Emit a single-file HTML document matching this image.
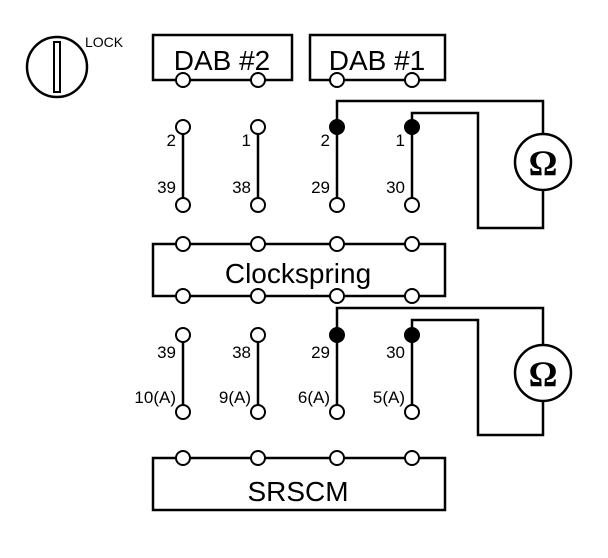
<!DOCTYPE html>
<html><head><style>body{margin:0;background:#fff}svg{display:block}text{font-family:"Liberation Sans",sans-serif;fill:#000}</style></head><body>
<svg width="608" height="558" viewBox="0 0 608 558" xmlns="http://www.w3.org/2000/svg">
<g stroke="#000" stroke-width="2.5" fill="none">
<circle cx="57" cy="67" r="30"/>
<rect x="54" y="42" width="6" height="50" stroke-width="2"/>
<rect x="153" y="35" width="139" height="45"/>
<rect x="310" y="35" width="135" height="45"/>
<rect x="153" y="244" width="292" height="52"/>
<rect x="153" y="458" width="292" height="52"/>
<line x1="183" y1="127" x2="183" y2="205"/><line x1="258" y1="127" x2="258" y2="205"/>
<line x1="337" y1="127" x2="337" y2="205"/><line x1="412" y1="127" x2="412" y2="205"/>
<line x1="183" y1="335" x2="183" y2="412"/><line x1="258" y1="335" x2="258" y2="412"/>
<line x1="337" y1="335" x2="337" y2="412"/><line x1="412" y1="335" x2="412" y2="412"/>
<polyline points="337,127 337,101 543,101 543,134"/>
<polyline points="412,127 412,113 478,113 478,228 543,228 543,190"/>
<circle cx="543" cy="162" r="28"/>
<polyline points="337,335 337,308 543,308 543,345"/>
<polyline points="412,335 412,320 478,320 478,435 543,435 543,401"/>
<circle cx="543" cy="373" r="28"/>
</g>
<g stroke="#000" stroke-width="2" fill="#fff">
<circle cx="183" cy="80" r="7"/><circle cx="258" cy="80" r="7"/><circle cx="337" cy="80" r="7"/><circle cx="412" cy="80" r="7"/>
<circle cx="183" cy="127" r="7"/><circle cx="258" cy="127" r="7"/><circle cx="337" cy="127" r="7" fill="#000"/><circle cx="412" cy="127" r="7" fill="#000"/>
<circle cx="183" cy="205" r="7"/><circle cx="258" cy="205" r="7"/><circle cx="337" cy="205" r="7"/><circle cx="412" cy="205" r="7"/>
<circle cx="183" cy="244" r="7"/><circle cx="258" cy="244" r="7"/><circle cx="337" cy="244" r="7"/><circle cx="412" cy="244" r="7"/>
<circle cx="183" cy="296" r="7"/><circle cx="258" cy="296" r="7"/><circle cx="337" cy="296" r="7"/><circle cx="412" cy="296" r="7"/>
<circle cx="183" cy="335" r="7"/><circle cx="258" cy="335" r="7"/><circle cx="337" cy="335" r="7" fill="#000"/><circle cx="412" cy="335" r="7" fill="#000"/>
<circle cx="183" cy="412" r="7"/><circle cx="258" cy="412" r="7"/><circle cx="337" cy="412" r="7"/><circle cx="412" cy="412" r="7"/>
<circle cx="183" cy="458" r="7"/><circle cx="258" cy="458" r="7"/><circle cx="337" cy="458" r="7"/><circle cx="412" cy="458" r="7"/>
</g>
<text x="85" y="47" font-size="14">LOCK</text>
<text x="222" y="70" font-size="28" text-anchor="middle">DAB #2</text>
<text x="377" y="70" font-size="28" text-anchor="middle">DAB #1</text>
<text x="298" y="283" font-size="28" text-anchor="middle">Clockspring</text>
<text x="298" y="501" font-size="28" text-anchor="middle">SRSCM</text>
<g font-size="17" text-anchor="end">
<text x="176" y="146">2</text><text x="251" y="146">1</text><text x="330" y="146">2</text><text x="405" y="146">1</text>
<text x="176" y="193">39</text><text x="251" y="193">38</text><text x="330" y="193">29</text><text x="405" y="193">30</text>
<text x="176" y="358">39</text><text x="251" y="358">38</text><text x="330" y="358">29</text><text x="405" y="358">30</text>
<text x="176" y="403">10(A)</text><text x="251" y="403">9(A)</text><text x="330" y="403">6(A)</text><text x="405" y="403">5(A)</text>
</g>
<text x="543" y="175" font-size="36" font-weight="bold" text-anchor="middle" style="font-family:'Liberation Serif',serif">Ω</text>
<text x="543" y="386" font-size="36" font-weight="bold" text-anchor="middle" style="font-family:'Liberation Serif',serif">Ω</text>
</svg>
</body></html>
